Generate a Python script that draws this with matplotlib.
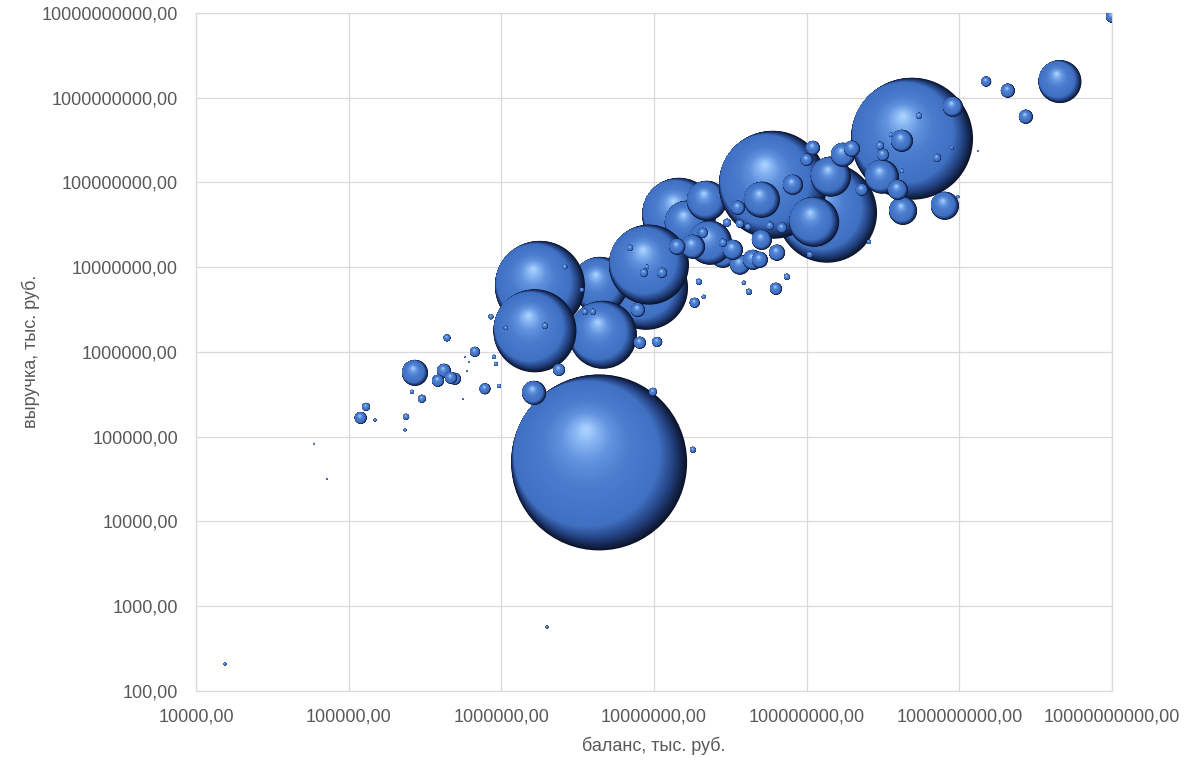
import numpy as np
import matplotlib
matplotlib.use("Agg")
import matplotlib.pyplot as plt
from matplotlib.path import Path
from matplotlib.colors import LinearSegmentedColormap
from matplotlib.ticker import FixedLocator, FuncFormatter, NullLocator

plt.rcParams['font.family'] = ['Liberation Sans', 'DejaVu Sans']

# DATA: баланс, выручка (тыс. руб.), размер пузыря
balance = [4.37e6, 1.46e7, 1.64e7, 8.87e6, 4.43e6, 1.79e6, 4.63e6, 1.66e6, 9.27e6, 2.83e7,
           2.33e7, 2.22e7, 1.80e7, 1.42e7, 1.36e8, 6.01e7, 4.90e8, 1.12e8, 1.44e8, 5.09e7,
           3.11e8, 4.28e8, 8.05e8, 4.21e8, 9.08e8, 4.56e9, 1.50e9, 2.08e9, 2.73e9, 1.0e10,
           2.72e5, 4.21e5, 3.85e5, 4.97e5, 4.68e5, 3.02e5, 2.60e5, 1.30e5, 1.20e5, 1.49e5,
           2.38e5, 2.34e5, 4.41e5, 6.72e5, 8.95e5, 9.23e5, 7.82e5, 9.66e5, 8.55e5, 1.64e6,
           2.39e6, 1.80e7, 9.84e6, 1.55e4, 1.99e6, 5.93e4, 7.21e4, 8.09e6, 1.05e7, 7.85e6,
           1.85e7, 1.97e7, 2.12e7, 4.19e7, 3.88e7, 6.30e7, 7.43e7, 6.97e6, 8.60e6, 1.13e7,
           9.00e6, 2.61e6, 3.37e6, 1.93e6, 1.07e6, 3.53e6, 3.98e6, 3.66e7, 3.29e7, 4.45e7,
           5.09e7, 4.94e7, 6.40e7, 3.55e7, 2.83e7, 8.13e7, 1.10e8, 1.00e8, 1.73e8, 1.98e8,
           2.30e8, 3.16e8, 3.02e8, 3.96e8, 5.44e8, 7.14e8, 9.79e8, 2.56e8, 1.05e8, 3.57e8,
           4.21e8, 8.95e8, 1.32e9, 5.78e5, 6.14e5, 5.96e5, 5.61e5, 3.01e7, 3.66e7, 4.13e7,
           5.75e7, 6.89e7, 2.09e7]

revenue = [4.95e4, 4.15e7, 3.34e7, 5.70e6, 6.18e6, 6.01e6, 1.59e6, 1.77e6, 1.07e7, 1.40e7,
           1.94e7, 6.07e7, 1.74e7, 1.74e7, 4.39e7, 9.38e7, 3.28e8, 3.43e7, 1.17e8, 6.24e7,
           1.17e8, 4.62e7, 5.30e7, 3.10e8, 7.82e8, 1.55e9, 1.55e9, 1.21e9, 5.96e8, 9.04e9,
           5.65e5, 5.97e5, 4.55e5, 4.80e5, 4.93e5, 2.79e5, 3.37e5, 2.24e5, 1.66e5, 1.57e5,
           1.71e5, 1.20e5, 1.46e6, 1.00e6, 8.73e5, 7.21e5, 3.66e5, 3.96e5, 2.59e6, 3.28e5,
           6.12e5, 6.97e4, 3.37e5, 206, 565, 8.19e4, 3.16e4, 1.28e6, 1.31e6, 3.13e6,
           3.79e6, 6.71e6, 4.46e6, 5.11e6, 6.53e6, 5.55e6, 7.69e6, 1.69e7, 8.57e6, 8.57e6,
           1.01e7, 1.01e7, 5.40e6, 2.03e6, 1.92e6, 2.97e6, 2.97e6, 1.07e7, 1.60e7, 1.22e7,
           2.10e7, 1.22e7, 1.48e7, 5.02e7, 1.94e7, 9.38e7, 2.56e8, 1.85e8, 2.12e8, 2.50e8,
           8.19e7, 2.12e8, 2.71e8, 8.19e7, 6.12e8, 1.95e8, 6.77e7, 1.99e7, 1.40e7, 3.66e8,
           1.37e8, 2.56e8, 2.37e8, 8.73e5, 7.62e5, 5.97e5, 2.79e5, 3.34e7, 3.25e7, 2.99e7,
           3.08e7, 2.91e7, 2.54e7]

bubble = [7744, 1369, 484, 1764, 784, 2025, 1156, 1722, 1600, 169,
          484, 400, 144, 64, 2500, 2916, 3721, 625, 400, 324,
          289, 196, 196, 121, 100, 462, 25, 49, 49, 36,
          169, 49, 36, 36, 36, 16, 4, 16, 36, 2,
          9, 2, 12, 25, 4, 4, 30, 4, 6, 144,
          36, 9, 16, 2, 2, 1, 0.3, 36, 25, 49,
          25, 9, 4, 9, 4, 36, 9, 9, 16, 25,
          4, 6, 4, 9, 4, 9, 9, 100, 100, 100,
          100, 64, 64, 49, 16, 100, 49, 36, 144, 64,
          36, 36, 16, 100, 9, 16, 2, 4, 9, 4,
          4, 2, 0.5, 0.25, 0.5, 0.36, 0.36, 16, 16, 9,
          16, 25, 25]

x_ticks = [1e4, 1e5, 1e6, 1e7, 1e8, 1e9, 1e10]
y_ticks = [1e2, 1e3, 1e4, 1e5, 1e6, 1e7, 1e8, 1e9, 1e10]


# SPHERE SHADING: stacked circle layers inside each marker
# first a dark crescent (circles tangent on the lit side), then the highlight

lit = np.array([np.cos(np.deg2rad(145)), np.sin(np.deg2rad(145))])
spot = np.array([-0.15, 0.37])
n1, n2 = 22, 42
crescent = 0.17

dark_cmap = LinearSegmentedColormap.from_list(
    "dark", [(0, '#0b142b'), (0.45, '#223f7c'), (1, '#4070c2')])
light_cmap = LinearSegmentedColormap.from_list(
    "light", [(0, '#4070c2'), (0.4, '#4a7bcc'), (0.68, '#6192de'),
              (0.88, '#88b6f3'), (1, '#a8d0fd')])

layer_paths = []
layer_colors = []
for k in range(n1):
    r = 1.0 - crescent * k / (n1 - 1)
    c = (1 - r) * lit
    layer_paths.append(Path.circle(center=(0.5 * c[0], 0.5 * c[1]), radius=0.5 * r))
    layer_colors.append(dark_cmap(k / (n1 - 1)))
c0 = crescent * lit
r0 = 1.0 - crescent
for k in range(1, n2 + 1):
    t = k / n2
    r = r0 - (r0 - 0.04) * t
    c = c0 + t * (spot - c0)
    layer_paths.append(Path.circle(center=(0.5 * c[0], 0.5 * c[1]), radius=0.5 * r))
    layer_colors.append(light_cmap(t))

n_layers = len(layer_paths)
n_bub = len(bubble)

fig = plt.figure(figsize=(11.89, 7.62), dpi=100)
ax = fig.add_axes([196 / 1189, (762 - 690.7) / 762, 916 / 1189, 677.7 / 762])
ax.set_xscale('log')
ax.set_yscale('log')
ax.set_xlim(1e4, 1e10)
ax.set_ylim(1e2, 1e10)

# bubble value ~ area; s in points^2
xs = np.repeat(balance, n_layers)
ys = np.repeat(revenue, n_layers)
ss = np.repeat(np.array(bubble) * 2.0736, n_layers)
cs = np.tile(np.array(layer_colors), (n_bub, 1))
sc = ax.scatter(xs, ys, s=ss, c=cs, linewidths=0, zorder=3)
sc.set_paths(layer_paths)

fmt = FuncFormatter(lambda v, p: f"{v:.2f}".replace(".", ","))
ax.xaxis.set_major_locator(FixedLocator(x_ticks))
ax.yaxis.set_major_locator(FixedLocator(y_ticks))
ax.xaxis.set_minor_locator(NullLocator())
ax.yaxis.set_minor_locator(NullLocator())
ax.xaxis.set_major_formatter(fmt)
ax.yaxis.set_major_formatter(fmt)
ax.tick_params(length=0, pad=13, labelsize=13, labelcolor='#595959')

ax.grid(True, color='#d9d9d9', linewidth=0.9)
ax.set_axisbelow(True)
for sp in ax.spines.values():
    sp.set_color('#d9d9d9')
    sp.set_linewidth(0.9)

ax.set_xlabel("баланс, тыс. руб.", fontsize=13, color='#595959')
ax.set_ylabel("выручка, тыс. руб.", fontsize=13, color='#595959')
ax.xaxis.set_label_coords(0.5, -0.068)
ax.yaxis.set_label_coords(-0.170, 0.5)

fig.savefig("out.png", dpi=100)
